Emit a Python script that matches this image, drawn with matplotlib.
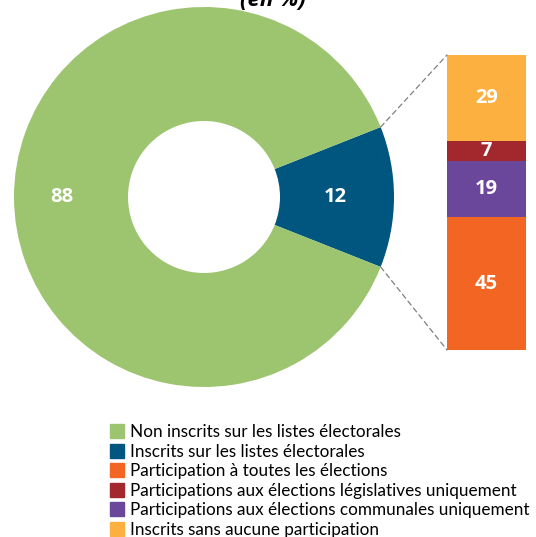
import matplotlib
matplotlib.use("Agg")
import matplotlib.pyplot as plt
from matplotlib.lines import Line2D
from matplotlib.patches import ConnectionPatch
import numpy as np

plt.rcParams['font.family'] = ['Lato', 'DejaVu Sans']

# Donut: registered vs not registered
donut_labels = ["Non inscrits sur les listes électorales", "Inscrits sur les listes électorales"]
donut_values = [88, 12]
donut_colors = ["#9DC46F", "#00567E"]

# Breakdown of registered voters (legend order)
bar_labels = ["Participation à toutes les élections",
              "Participations aux élections législatives uniquement",
              "Participations aux élections communales uniquement",
              "Inscrits sans aucune participation"]
bar_values = [45, 7, 19, 29]
bar_colors = ["#F26522", "#A3282D", "#6B479B", "#FBB040"]
# stacking from the bottom: toutes, communales, législatives, aucune
bar_stack_order = [0, 2, 1, 3]

W, H = 536, 537
fig = plt.figure(figsize=(W / 100, H / 100), dpi=100)

num_font = dict(color="white", fontsize=14.5, fontweight="bold",
                family=["Open Sans", "DejaVu Sans"])

# --- donut ---
cx, cy, R = 204, 537 - 197, 190
ax = fig.add_axes([(cx - R) / W, (cy - R) / H, 2 * R / W, 2 * R / H])
blue_share = donut_values[1]
start = -blue_share / 100 * 360 / 2
wedges, texts = ax.pie([donut_values[1], donut_values[0]],
                       colors=[donut_colors[1], donut_colors[0]],
                       startangle=start, counterclock=True,
                       radius=1.0,
                       wedgeprops=dict(width=0.6, linewidth=0),
                       labels=[str(donut_values[1]), str(donut_values[0])],
                       labeldistance=0.72,
                       textprops=dict(ha="center", va="center", **num_font))
# place each value label along its wedge's bisector
for w, t, d in zip(wedges, texts, (0.69, 0.75)):
    a = np.deg2rad((w.theta1 + w.theta2) / 2)
    t.set_position((d * np.cos(a), d * np.sin(a)))
ax.set_xlim(-1, 1)
ax.set_ylim(-1, 1)
ax.set_aspect("equal")
ax.axis("off")

# --- stacked bar ---
bx0, by0, bx1, by1 = 447, 537 - 350, 526, 537 - 55
bax = fig.add_axes([bx0 / W, by0 / H, (bx1 - bx0) / W, (by1 - by0) / H])
bottom = 0
for i in bar_stack_order:
    v = bar_values[i]
    bax.bar(0, v, width=1.0, bottom=bottom, color=bar_colors[i], linewidth=0)
    bax.text(0, bottom + v / 2, str(v), ha="center", va="center", **num_font)
    bottom += v
bax.set_xlim(-0.5, 0.5)
bax.set_ylim(0, 100)
bax.axis("off")

# connector lines from the blue wedge to the bar
theta = np.deg2rad(blue_share / 100 * 360 / 2)
for sgn, yb in ((1, 100), (-1, 0)):
    con = ConnectionPatch(xyA=(np.cos(theta), sgn * np.sin(theta)), coordsA=ax.transData,
                          xyB=(-0.5, yb), coordsB=bax.transData,
                          color="#7F7F7F", linestyle=(0, (4, 3)), linewidth=0.9)
    fig.add_artist(con)

# title (runs past the top edge)
fig.text(273 / W, (537 - 6) / H, "(en %)", fontsize=16, fontweight="bold",
         fontstyle="italic", ha="center", va="baseline", color="black",
         family=["Open Sans", "DejaVu Sans"])

# legend
handles = [Line2D([], [], marker="s", linestyle="none", markersize=10,
                  markerfacecolor=c, markeredgecolor=c)
           for c in donut_colors + bar_colors]
names = donut_labels + bar_labels
fig.legend(handles, names, loc="upper left", bbox_to_anchor=(110 / W, (537 - 424) / H),
           frameon=False, fontsize=12.3, handlelength=0.8, handletextpad=0.35,
           labelspacing=0.21, borderaxespad=0, borderpad=0)

fig.savefig("out.png", dpi=100)
